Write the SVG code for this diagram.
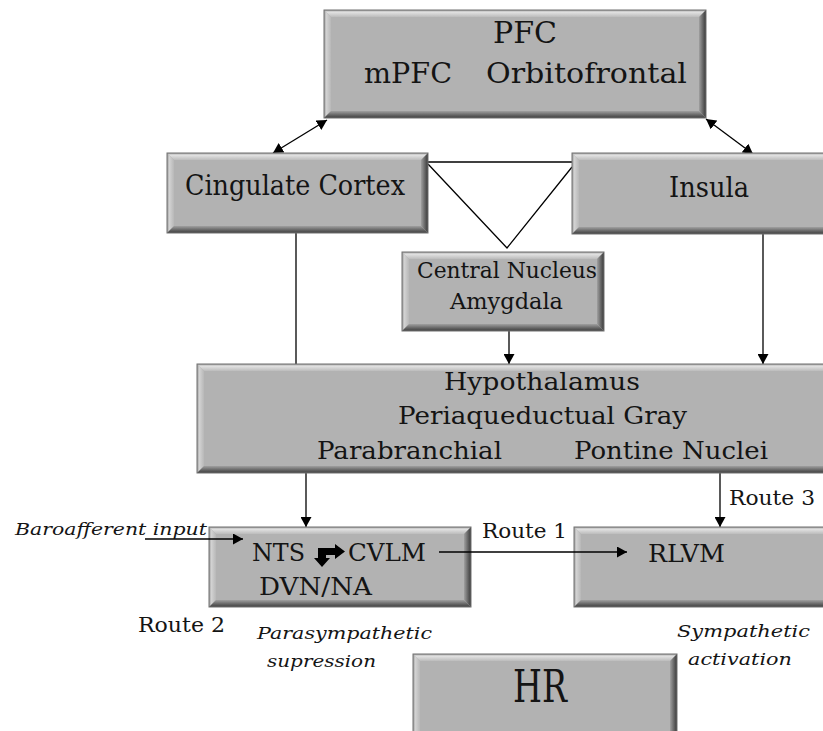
<svg xmlns="http://www.w3.org/2000/svg" width="823" height="731" viewBox="0 0 823 731">
<defs>
<linearGradient id="gT" x1="0" y1="0" x2="0" y2="1"><stop offset="0" stop-color="#9c9c9c"/><stop offset="0.3" stop-color="#e2e2e2"/><stop offset="1" stop-color="#bcbcbc"/></linearGradient>
<linearGradient id="gL" x1="0" y1="0" x2="1" y2="0"><stop offset="0" stop-color="#9e9e9e"/><stop offset="0.35" stop-color="#d2d2d2"/><stop offset="1" stop-color="#b8b8b8"/></linearGradient>
<linearGradient id="gR" x1="0" y1="0" x2="1" y2="0"><stop offset="0" stop-color="#a0a0a0"/><stop offset="0.65" stop-color="#5c5c5c"/><stop offset="1" stop-color="#3a3a3a"/></linearGradient>
<linearGradient id="gB" x1="0" y1="0" x2="0" y2="1"><stop offset="0" stop-color="#a0a0a0"/><stop offset="0.65" stop-color="#5e5e5e"/><stop offset="1" stop-color="#404040"/></linearGradient>
<marker id="ah" viewBox="0 0 10 11" refX="10" refY="5.5" markerWidth="10" markerHeight="11" markerUnits="userSpaceOnUse" orient="auto-start-reverse"><path d="M0,0L10,5.5L0,11z" fill="#000"/></marker>
</defs>
<style>
.face{fill:#b2b2b2}
.bt{fill:url(#gT)}
.bl{fill:url(#gL)}
.br{fill:url(#gR)}
.bb{fill:url(#gB)}
.edge{fill:none;stroke:#707070;stroke-width:1}
.t{font-family:"DejaVu Serif","Liberation Serif",serif;fill:#141414}
.i{font-family:"DejaVu Serif","Liberation Serif",serif;font-style:italic;fill:#141414}
.ln{stroke:#000;stroke-width:1.3;fill:none}
.arr{marker-end:url(#ah)}
.dbl{marker-start:url(#ah);marker-end:url(#ah)}
</style>

<g id="connectors">
<line class="ln dbl" x1="327" y1="120" x2="273" y2="153"/>
<line class="ln dbl" x1="706" y1="119" x2="753" y2="154"/>
<line class="ln" x1="428" y1="162" x2="572" y2="162"/>
<polyline class="ln" points="428,164 507,248 572,167"/>
<line class="ln" x1="296" y1="233" x2="296" y2="364"/>
<line class="ln arr" x1="509" y1="331" x2="509" y2="364"/>
<line class="ln arr" x1="763" y1="234" x2="763" y2="364"/>
<line class="ln arr" x1="306" y1="473" x2="306" y2="527"/>
<line class="ln arr" x1="720" y1="473" x2="720" y2="527"/>
</g>

<g id="pfc">
<g transform="translate(324,10)">
<rect class="face" width="382" height="108"/>
<polygon class="bt" points="0,0 382,0 375,7 7,7"/>
<polygon class="bl" points="0,0 7,7 7,101 0,108"/>
<polygon class="br" points="382,0 382,108 375,101 375,7"/>
<polygon class="bb" points="0,108 382,108 375,101 7,101"/>
<rect class="edge" width="382" height="108"/>
</g>
<text class="t" x="493" y="43" font-size="30" textLength="64" lengthAdjust="spacingAndGlyphs">PFC</text>
<text class="t" x="364" y="83" font-size="27.5" textLength="88" lengthAdjust="spacingAndGlyphs">mPFC</text>
<text class="t" x="486" y="83" font-size="27.5" textLength="201" lengthAdjust="spacingAndGlyphs">Orbitofrontal</text>
</g>

<g id="cingulate">
<g transform="translate(167,153)">
<rect class="face" width="261" height="80"/>
<polygon class="bt" points="0,0 261,0 254,7 7,7"/>
<polygon class="bl" points="0,0 7,7 7,73 0,80"/>
<polygon class="br" points="261,0 261,80 254,73 254,7"/>
<polygon class="bb" points="0,80 261,80 254,73 7,73"/>
<rect class="edge" width="261" height="80"/>
</g>
<text class="t" x="185" y="195" font-size="27.5" textLength="220" lengthAdjust="spacingAndGlyphs">Cingulate Cortex</text>
</g>

<g id="insula">
<g transform="translate(572,153)">
<rect class="face" width="280" height="81"/>
<polygon class="bt" points="0,0 280,0 273,7 7,7"/>
<polygon class="bl" points="0,0 7,7 7,74 0,81"/>
<polygon class="br" points="280,0 280,81 273,74 273,7"/>
<polygon class="bb" points="0,81 280,81 273,74 7,74"/>
<rect class="edge" width="280" height="81"/>
</g>
<text class="t" x="669" y="197" font-size="27" textLength="80" lengthAdjust="spacingAndGlyphs">Insula</text>
</g>

<g id="amygdala">
<g transform="translate(402,252)">
<rect class="face" width="202" height="79"/>
<polygon class="bt" points="0,0 202,0 195,7 7,7"/>
<polygon class="bl" points="0,0 7,7 7,72 0,79"/>
<polygon class="br" points="202,0 202,79 195,72 195,7"/>
<polygon class="bb" points="0,79 202,79 195,72 7,72"/>
<rect class="edge" width="202" height="79"/>
</g>
<text class="t" x="417" y="278" font-size="23" textLength="180" lengthAdjust="spacingAndGlyphs">Central Nucleus</text>
<text class="t" x="450" y="309" font-size="23" textLength="113" lengthAdjust="spacingAndGlyphs">Amygdala</text>
</g>

<g id="hypothalamus">
<g transform="translate(197,364)">
<rect class="face" width="690" height="109"/>
<polygon class="bt" points="0,0 690,0 683,7 7,7"/>
<polygon class="bl" points="0,0 7,7 7,102 0,109"/>
<polygon class="br" points="690,0 690,109 683,102 683,7"/>
<polygon class="bb" points="0,109 690,109 683,102 7,102"/>
<rect class="edge" width="690" height="109"/>
</g>
<text class="t" x="444" y="390" font-size="23.5" textLength="196" lengthAdjust="spacingAndGlyphs">Hypothalamus</text>
<text class="t" x="398" y="424" font-size="23.5" textLength="289" lengthAdjust="spacingAndGlyphs">Periaqueductual Gray</text>
<text class="t" x="317" y="459" font-size="23.5" textLength="185" lengthAdjust="spacingAndGlyphs">Parabranchial</text>
<text class="t" x="574" y="459" font-size="23.5" textLength="194" lengthAdjust="spacingAndGlyphs">Pontine Nuclei</text>
</g>

<g id="nts">
<g transform="translate(209,527)">
<rect class="face" width="262" height="80"/>
<polygon class="bt" points="0,0 262,0 255,7 7,7"/>
<polygon class="bl" points="0,0 7,7 7,73 0,80"/>
<polygon class="br" points="262,0 262,80 255,73 255,7"/>
<polygon class="bb" points="0,80 262,80 255,73 7,73"/>
<rect class="edge" width="262" height="80"/>
</g>
<text class="t" x="252" y="561" font-size="24" textLength="53" lengthAdjust="spacingAndGlyphs">NTS</text>
<polygon fill="#000" points="318,548 335,548 335,544 345,551.5 335,559 335,555 326,555 326,558 330,558 322,567 314,558 318,558"/>
<text class="t" x="348" y="561" font-size="24" textLength="78" lengthAdjust="spacingAndGlyphs">CVLM</text>
<text class="t" x="259" y="595" font-size="24" textLength="113" lengthAdjust="spacingAndGlyphs">DVN/NA</text>
</g>

<g id="rlvm">
<g transform="translate(574,527)">
<rect class="face" width="280" height="80"/>
<polygon class="bt" points="0,0 280,0 273,7 7,7"/>
<polygon class="bl" points="0,0 7,7 7,73 0,80"/>
<polygon class="br" points="280,0 280,80 273,73 273,7"/>
<polygon class="bb" points="0,80 280,80 273,73 7,73"/>
<rect class="edge" width="280" height="80"/>
</g>
<text class="t" x="648" y="562" font-size="24" textLength="77" lengthAdjust="spacingAndGlyphs">RLVM</text>
</g>

<g id="hr">
<g transform="translate(413,654)">
<rect class="face" width="264" height="84"/>
<polygon class="bt" points="0,0 264,0 257,7 7,7"/>
<polygon class="bl" points="0,0 7,7 7,77 0,84"/>
<polygon class="br" points="264,0 264,84 257,77 257,7"/>
<polygon class="bb" points="0,84 264,84 257,77 7,77"/>
<rect class="edge" width="264" height="84"/>
</g>
<text class="t" x="513" y="702" font-size="44" textLength="54" lengthAdjust="spacingAndGlyphs">HR</text>
</g>

<g id="connectors-over">
<line class="ln arr" x1="145" y1="539" x2="243" y2="539"/>
<line class="ln arr" x1="439" y1="552" x2="627" y2="552"/>
</g>

<g id="labels">
<text class="i" x="15" y="535" font-size="16.5" textLength="192" lengthAdjust="spacingAndGlyphs">Baroafferent input</text>
<text class="t" x="482" y="538" font-size="20.5" textLength="85" lengthAdjust="spacingAndGlyphs">Route 1</text>
<text class="t" x="729" y="505" font-size="20.5" textLength="86" lengthAdjust="spacingAndGlyphs">Route 3</text>
<text class="t" x="138" y="632" font-size="20.5" textLength="87" lengthAdjust="spacingAndGlyphs">Route 2</text>
<text class="i" x="257" y="639" font-size="16.5" textLength="175" lengthAdjust="spacingAndGlyphs">Parasympathetic</text>
<text class="i" x="267" y="667" font-size="16.5" textLength="109" lengthAdjust="spacingAndGlyphs">supression</text>
<text class="i" x="677" y="637" font-size="16.5" textLength="133" lengthAdjust="spacingAndGlyphs">Sympathetic</text>
<text class="i" x="688" y="665" font-size="16.5" textLength="104" lengthAdjust="spacingAndGlyphs">activation</text>
</g>
</svg>
